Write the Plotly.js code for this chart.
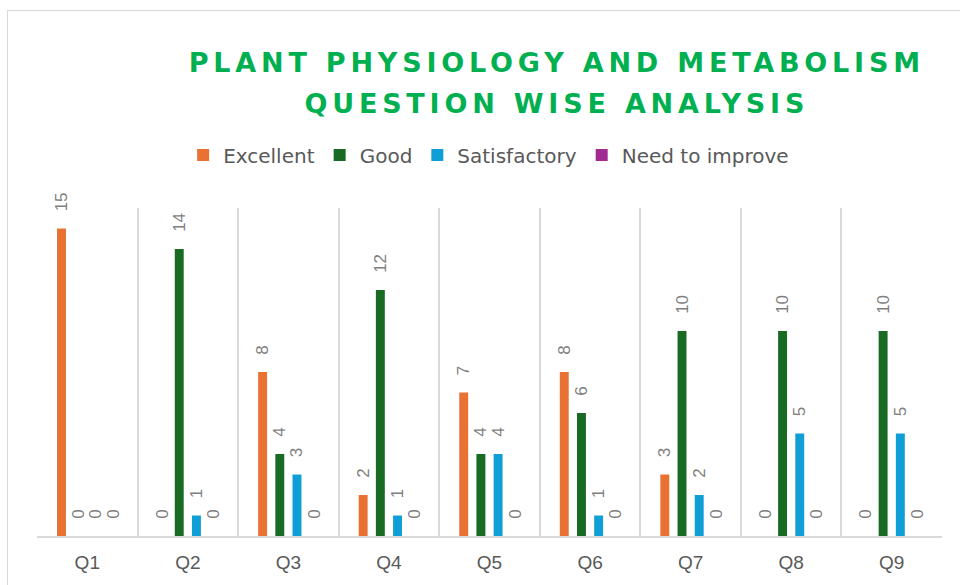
<!DOCTYPE html>
<html>
<head>
<meta charset="utf-8">
<script src="https://cdn.plot.ly/plotly-3.0.1.min.js"></script>
<style>
  html, body { margin:0; padding:0; background:#ffffff; overflow:hidden; }
  #frame { position:absolute; left:7px; top:10px; width:1000px; height:700px; border:1.5px solid #d9d9d9; box-sizing:border-box; }
  #chart { position:absolute; left:0; top:0; width:960px; height:585px; }
  #chart .gtitle { letter-spacing: 4.8px; }
</style>
</head>
<body>
<div id="frame"></div>
<div id="chart"></div>
<script>
const categories = ['Q1','Q2','Q3','Q4','Q5','Q6','Q7','Q8','Q9'];
const seriesNames = ['Excellent','Good','Satisfactory','Need to improve'];
const excellent = [15, 0, 8, 2, 7, 8, 3, 0, 0];
const good = [0, 14, 4, 12, 4, 6, 10, 10, 10];
const satisfactory = [0, 1, 3, 1, 4, 1, 2, 5, 5];
const needToImprove = [0, 0, 0, 0, 0, 0, 0, 0, 0];
const seriesValues = [excellent, good, satisfactory, needToImprove];
const colors = ['#E97132', '#196B24', '#0F9ED5', '#A02B93'];

const traces = seriesValues.map((vals, i) => ({
  type: 'bar',
  name: seriesNames[i],
  x: categories,
  y: vals,
  marker: { color: colors[i], line: { width: 0 } },
  texttemplate: '\u00A0\u00A0\u00A0%{y}',
  textposition: 'outside',
  textangle: -90,
  constraintext: 'none',
  cliponaxis: false,
  textfont: { family: 'Liberation Sans, Arial, sans-serif', size: 17, color: '#7f7f7f' },
  hoverinfo: 'x+y+name'
}));

const layout = {
  width: 960,
  height: 585,
  paper_bgcolor: 'rgba(0,0,0,0)',
  plot_bgcolor: 'rgba(0,0,0,0)',
  margin: { l: 37, r: 18, t: 208, b: 49 },
  barmode: 'group',
  bargap: 0.316,
  bargroupgap: 0.48,
  showlegend: true,
  title: {
    text: 'PLANT PHYSIOLOGY AND METABOLISM<br>QUESTION WISE ANALYSIS',
    font: { family: 'DejaVu Sans, sans-serif', size: 27, color: '#00B050', weight: 'bold' },
    xref: 'container', yref: 'container',
    x: 0.580, xanchor: 'center',
    y: 1 - 72/585, yanchor: 'top'
  },
  legend: {
    orientation: 'h',
    xref: 'container', yref: 'container',
    x: 0.509, xanchor: 'center',
    y: 1 - 155/585, yanchor: 'middle',
    font: { family: 'DejaVu Sans, sans-serif', size: 20, color: '#595959' },
    itemclick: false, itemdoubleclick: false
  },
  xaxis: {
    type: 'category',
    tickson: 'boundaries',
    showgrid: true,
    gridcolor: '#d9d9d9',
    gridwidth: 1.5,
    showline: true,
    linecolor: '#d9d9d9',
    linewidth: 2,
    ticks: '',
    ticklabelstandoff: 8,
    tickfont: { family: 'Liberation Sans, Arial, sans-serif', size: 19, color: '#595959' },
    fixedrange: true
  },
  yaxis: {
    range: [0, 16],
    showgrid: false,
    zeroline: false,
    showline: false,
    showticklabels: false,
    ticks: '',
    fixedrange: true
  }
};

Plotly.newPlot('chart', traces, layout, { displayModeBar: false }).then(() => {
  document.querySelectorAll('#chart .gtitle tspan.line').forEach((t, i) => {
    if (i > 0) t.setAttribute('dy', '1.52em');
  });
});
</script>
</body>
</html>
